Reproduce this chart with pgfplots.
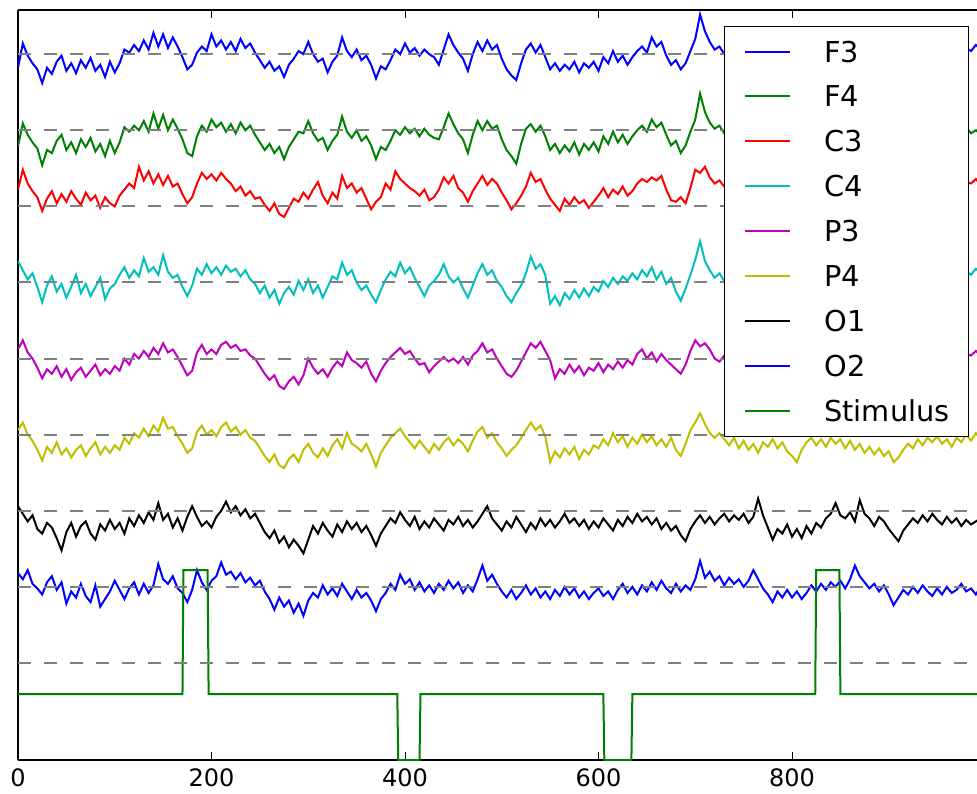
\documentclass[border=0pt]{standalone}
\usepackage{fontspec}
\setmainfont{DejaVu Sans}
\usepackage{pgfplots}
\usepackage{pgfplotstable}
\pgfplotsset{compat=1.18}

% classic matplotlib colour cycle
\definecolor{mplb}{rgb}{0,0,1}
\definecolor{mplg}{rgb}{0,0.5,0}
\definecolor{mplr}{rgb}{1,0,0}
\definecolor{mplc}{rgb}{0,0.75,0.75}
\definecolor{mplm}{rgb}{0.75,0,0.75}
\definecolor{mply}{rgb}{0.75,0.75,0}

% one channel per row, sampled every 5 time steps; each channel is stacked on its own baseline
\pgfplotstableread[row sep=\\]{
t 0 5 10 15 20 25 30 35 40 45 50 55 60 65 70 75 80 85 90 95
 100 105 110 115 120 125 130 135 140 145 150 155 160 165 170 175 180 185 190 195
 200 205 210 215 220 225 230 235 240 245 250 255 260 265 270 275 280 285 290 295
 300 305 310 315 320 325 330 335 340 345 350 355 360 365 370 375 380 385 390 395
 400 405 410 415 420 425 430 435 440 445 450 455 460 465 470 475 480 485 490 495
 500 505 510 515 520 525 530 535 540 545 550 555 560 565 570 575 580 585 590 595
 600 605 610 615 620 625 630 635 640 645 650 655 660 665 670 675 680 685 690 695
 700 705 710 715 720 725 730 735 740 745 750 755 760 765 770 775 780 785 790 795
 800 805 810 815 820 825 830 835 840 845 850 855 860 865 870 875 880 885 890 895
 900 905 910 915 920 925 930 935 940 945 950 955 960 965 970 975 980 985 990 995 1000 \\
F3 7.82 8.14 7.98 7.88 7.80 7.62 7.82 7.74 7.90 7.98
 7.78 7.88 7.75 7.92 7.82 7.95 7.78 7.86 7.70 7.90
 7.76 7.88 8.06 8.02 8.12 8.04 8.18 8.06 8.28 8.10
 8.26 8.08 8.22 8.10 7.96 7.80 7.86 8.02 8.10 8.04
 8.26 8.10 8.18 8.06 8.16 8.04 8.20 8.08 8.14 8.02
 7.92 7.82 7.90 7.78 7.84 7.70 7.86 7.94 8.04 8.00
 8.16 8.00 7.90 7.94 7.76 7.90 7.98 8.22 8.04 7.96
 8.06 7.92 7.98 7.86 7.68 7.84 7.80 7.92 8.06 8.00
 8.14 8.02 8.08 7.98 8.06 8.00 7.96 7.86 8.06 8.26
 8.12 8.02 7.94 7.78 8.00 8.16 8.04 8.18 8.06 8.12
 7.94 7.80 7.72 7.66 7.88 8.06 8.14 8.02 8.12 7.96
 7.80 7.88 7.78 7.86 7.80 7.90 7.76 7.88 7.82 7.90
 7.78 7.96 7.88 8.04 7.90 7.98 7.86 7.96 8.04 8.10
 8.02 8.22 8.10 8.16 7.98 7.86 7.92 7.80 7.88 8.04
 8.20 8.52 8.30 8.16 8.06 8.10 8.00 8.08 7.96 8.04
 7.94 8.06 7.98 8.10 8.00 7.90 8.02 7.94 8.08 8.00
 8.12 8.02 8.14 7.96 8.04 7.90 7.98 8.06 7.92 8.00
 8.10 7.96 8.04 7.88 7.96 8.08 7.98 8.12 8.02 7.94
 7.86 7.96 7.90 8.04 7.98 8.10 8.00 7.92 8.04 7.96
 8.08 7.98 7.88 8.00 8.10 8.02 8.08 8.04 8.12 8.06 8.10 \\
F4 6.79 7.09 6.94 6.84 6.76 6.54 6.74 6.70 6.86 6.94
 6.74 6.84 6.70 6.88 6.78 6.90 6.72 6.82 6.66 6.86
 6.70 6.84 7.04 6.98 7.06 7.00 7.12 6.98 7.22 7.02
 7.20 7.00 7.14 7.02 6.88 6.70 6.66 6.92 7.06 6.98
 7.14 7.04 7.10 6.98 7.08 6.96 7.10 7.00 7.06 6.94
 6.84 6.74 6.82 6.70 6.78 6.62 6.78 6.88 6.98 6.96
 7.12 6.96 6.86 6.90 6.74 6.86 6.94 7.18 6.98 6.90
 7.00 6.86 6.92 6.80 6.62 6.78 6.74 6.86 7.00 6.94
 7.04 6.96 7.02 6.92 7.02 6.94 6.90 6.88 7.04 7.22
 7.08 6.96 6.88 6.70 6.94 7.12 7.00 7.12 7.02 7.06
 6.88 6.74 6.66 6.56 6.82 7.02 7.08 6.98 7.06 6.92
 6.74 6.82 6.70 6.80 6.72 6.84 6.68 6.82 6.74 6.84
 6.72 6.92 6.82 6.98 6.84 6.94 6.82 6.92 7.00 7.06
 6.98 7.14 7.04 7.10 6.94 6.80 6.86 6.70 6.80 6.98
 7.14 7.48 7.24 7.10 7.02 7.06 6.96 7.04 6.92 7.00
 6.90 7.02 6.94 7.06 6.96 6.86 6.98 6.90 7.04 6.96
 7.08 6.98 7.10 6.92 7.00 6.86 6.94 7.02 6.88 6.96
 7.06 6.92 7.00 6.84 6.92 7.04 6.94 7.08 6.98 6.90
 6.82 6.92 6.86 7.00 6.94 7.06 6.96 6.88 7.00 6.92
 7.04 6.94 6.86 6.98 7.06 6.98 7.04 6.96 7.00 6.94 6.98 \\
C3 6.22 6.48 6.30 6.20 6.12 5.94 6.10 6.20 6.04 6.16
 6.06 6.20 6.10 6.02 6.18 6.08 6.14 5.98 6.12 6.04
 6.00 6.14 6.22 6.30 6.24 6.52 6.34 6.46 6.30 6.42
 6.28 6.40 6.26 6.30 6.16 6.04 6.12 6.30 6.44 6.36
 6.42 6.34 6.44 6.36 6.30 6.20 6.26 6.14 6.20 6.10
 6.12 6.02 5.94 6.04 5.90 5.86 5.98 6.10 6.06 6.18
 6.10 6.22 6.32 6.14 6.04 6.18 6.10 6.40 6.24 6.30
 6.18 6.24 6.10 5.96 6.06 6.12 6.30 6.22 6.46 6.36
 6.30 6.24 6.20 6.14 6.22 6.08 6.12 6.22 6.38 6.30
 6.40 6.24 6.18 6.06 6.20 6.30 6.40 6.28 6.36 6.30
 6.18 6.08 5.96 6.04 6.14 6.26 6.44 6.32 6.36 6.22
 6.10 6.02 5.94 6.10 6.02 6.12 6.04 6.08 5.98 6.06
 6.14 6.24 6.12 6.22 6.16 6.26 6.14 6.20 6.30 6.36
 6.32 6.38 6.34 6.40 6.22 6.08 6.06 6.12 6.04 6.24
 6.48 6.44 6.52 6.38 6.30 6.34 6.26 6.30 6.22 6.28
 6.18 6.30 6.22 6.34 6.26 6.14 6.24 6.18 6.30 6.22
 6.34 6.24 6.36 6.20 6.28 6.16 6.22 6.30 6.18 6.26
 6.32 6.20 6.28 6.14 6.22 6.32 6.24 6.36 6.26 6.18
 6.12 6.22 6.16 6.28 6.24 6.34 6.26 6.18 6.28 6.22
 6.32 6.24 6.16 6.26 6.34 6.28 6.32 6.30 6.36 6.28 6.32 \\
C4 5.28 5.16 5.04 5.12 4.94 4.74 4.96 5.08 4.88 4.98
 4.80 4.94 5.10 4.86 4.98 4.82 4.94 5.06 4.78 4.92
 4.98 5.10 5.20 5.06 5.16 5.08 5.32 5.14 5.20 5.10
 5.36 5.14 5.06 5.10 4.94 4.82 4.96 5.18 5.10 5.24
 5.12 5.20 5.10 5.22 5.14 5.18 5.08 5.16 5.04 4.98
 4.86 4.96 4.80 4.90 4.72 4.86 4.94 4.84 5.02 4.90
 5.04 4.86 4.96 4.80 4.94 5.08 5.04 5.26 5.10 5.16
 5.00 4.90 4.96 4.84 4.74 4.90 5.04 5.14 5.08 5.26
 5.12 5.20 5.06 4.94 4.82 4.96 5.02 5.10 5.24 5.08
 5.00 5.06 4.92 4.80 4.96 5.12 5.24 5.10 5.16 5.02
 4.94 4.82 4.74 4.86 4.96 5.12 5.34 5.18 5.24 5.10
 4.72 4.82 4.70 4.86 4.78 4.90 4.80 4.92 4.82 4.94
 4.88 5.02 4.94 5.06 4.98 5.08 5.02 5.12 5.04 5.16
 5.08 5.20 5.04 5.14 4.98 5.06 4.88 4.76 4.92 5.10
 5.30 5.54 5.28 5.16 5.06 5.12 5.02 5.10 4.98 5.06
 4.96 5.08 5.00 5.12 5.02 4.92 5.04 4.96 5.10 5.02
 5.14 5.04 5.16 4.98 5.06 4.92 5.00 5.08 4.94 5.02
 5.12 4.98 5.06 4.90 4.98 5.10 5.00 5.14 5.04 4.96
 4.88 4.98 4.92 5.06 5.00 5.12 5.02 4.94 5.06 4.98
 5.10 5.00 4.92 5.04 5.12 5.06 5.16 5.10 5.18 5.12 5.14 \\
P3 4.12 4.24 4.08 4.00 3.88 3.74 3.86 3.80 3.90 3.76
 3.86 3.72 3.82 3.88 3.76 3.84 3.92 3.78 3.86 3.80
 3.90 3.84 4.00 3.92 4.06 4.00 4.10 4.02 4.14 4.06
 4.20 4.08 4.12 4.02 3.90 3.78 3.84 4.08 4.18 4.06
 4.12 4.06 4.18 4.22 4.14 4.18 4.10 4.12 4.04 4.00
 3.90 3.80 3.72 3.78 3.64 3.60 3.70 3.76 3.66 3.78
 4.00 3.88 3.80 3.86 3.76 3.88 3.96 3.90 4.08 3.98
 3.94 3.88 3.96 3.80 3.70 3.84 3.94 4.02 4.08 4.14
 4.06 4.10 4.00 3.92 3.94 3.82 3.90 3.96 4.02 3.96
 4.00 3.94 4.02 3.92 4.04 4.10 4.20 4.08 4.12 4.00
 3.90 3.80 3.76 3.84 3.96 4.08 4.20 4.14 4.22 4.10
 3.98 3.74 3.86 3.80 3.92 3.82 3.90 3.78 3.88 3.84
 3.94 3.82 3.92 3.86 3.96 3.88 3.98 3.92 4.06 4.12
 4.00 4.08 3.96 4.06 3.98 3.92 3.86 3.80 3.92 4.10
 4.24 4.16 4.20 4.12 4.00 3.96 4.04 3.98 4.06 4.00
 3.92 4.04 3.96 4.08 3.98 3.88 4.00 3.92 4.06 3.98
 4.10 3.98 4.08 3.92 4.02 3.88 3.96 4.04 3.90 3.98
 4.06 3.94 4.02 3.86 3.94 4.06 3.96 4.10 4.00 3.92
 3.86 3.96 3.90 4.02 3.98 4.08 4.00 3.92 4.04 3.96
 4.06 3.98 3.90 4.00 4.08 4.02 4.06 4.04 4.10 4.04 4.06 \\
P4 3.06 3.16 3.00 2.92 2.80 2.66 2.84 2.76 2.90 2.74
 2.82 2.70 2.80 2.86 2.72 2.82 2.90 2.74 2.84 2.76
 2.86 2.80 2.96 2.88 3.02 2.96 3.08 2.98 3.12 3.04
 3.22 3.08 3.10 2.98 2.88 2.76 2.82 3.04 3.12 3.00
 3.06 2.98 3.10 3.16 3.04 3.10 3.00 3.06 2.96 2.92
 2.82 2.72 2.64 2.74 2.60 2.56 2.68 2.74 2.64 2.80
 2.88 2.76 2.70 2.82 2.72 2.86 2.94 2.82 3.02 2.88
 2.84 2.78 2.88 2.74 2.58 2.76 2.86 2.96 3.02 3.08
 2.98 2.90 2.82 2.92 2.84 2.76 2.88 2.80 2.90 2.96
 2.86 2.94 2.88 2.78 2.92 3.04 3.10 2.96 3.02 2.90
 2.82 2.72 2.80 2.86 2.96 3.06 3.16 3.06 3.12 2.98
 2.64 2.78 2.70 2.82 2.74 2.84 2.68 2.80 2.74 2.86
 2.82 2.94 2.86 3.02 2.90 2.98 2.84 2.96 2.88 3.00
 2.90 2.98 2.86 2.94 2.84 2.96 2.80 2.72 2.88 3.06
 3.16 3.28 3.14 3.02 2.96 3.02 2.94 2.86 2.96 2.82
 2.92 2.80 2.88 2.76 2.90 2.84 2.94 2.82 2.90 2.78
 2.72 2.64 2.80 2.90 2.96 2.86 2.94 2.84 2.96 2.88
 2.94 2.82 2.92 2.80 2.88 2.76 2.84 2.74 2.82 2.72
 2.78 2.64 2.70 2.80 2.88 2.82 2.94 2.86 2.96 2.90
 2.98 2.88 2.94 2.84 2.96 2.90 3.00 2.92 3.02 2.94 2.98 \\
O1 2.06 1.96 1.86 1.94 1.76 1.70 1.84 1.78 1.64 1.48
 1.72 1.84 1.66 1.80 1.86 1.70 1.62 1.82 1.74 1.88
 1.76 1.84 1.70 1.90 1.80 1.94 1.84 1.98 1.88 2.10
 1.88 1.96 1.78 1.90 1.74 1.92 2.06 1.92 1.80 1.86
 1.78 1.92 2.00 2.12 1.98 2.06 1.94 2.02 1.90 1.96
 1.84 1.72 1.64 1.74 1.58 1.66 1.52 1.62 1.54 1.44
 1.62 1.80 1.70 1.84 1.74 1.66 1.82 1.72 1.86 1.76
 1.84 1.72 1.80 1.68 1.54 1.70 1.80 1.90 1.84 1.98
 1.88 1.80 1.92 1.76 1.86 1.78 1.90 1.82 1.74 1.88
 1.82 1.92 1.80 1.88 1.78 1.86 1.96 2.06 1.90 1.82
 1.74 1.86 1.78 1.92 1.82 1.72 1.84 1.76 1.90 1.80
 1.88 1.78 1.86 1.96 1.84 1.90 1.80 1.88 1.76 1.86
 1.78 1.90 1.82 1.74 1.88 1.80 1.92 1.84 1.96 1.86
 1.92 1.82 1.90 1.76 1.84 1.74 1.80 1.68 1.60 1.76
 1.86 1.94 1.84 1.92 1.82 1.90 1.96 1.86 1.94 1.88
 1.96 1.84 1.92 2.16 1.94 1.78 1.62 1.76 1.70 1.82
 1.66 1.76 1.64 1.80 1.70 1.84 1.78 1.90 1.96 2.10
 1.94 1.90 1.98 1.86 2.14 1.96 1.90 1.80 1.92 1.86
 1.76 1.68 1.60 1.74 1.82 1.90 1.84 1.94 1.86 1.96
 1.88 1.82 1.92 1.84 1.90 1.80 1.88 1.82 1.86 1.90 1.86 \\
O2 1.18 1.10 1.22 1.04 0.98 0.90 1.06 1.14 0.96 1.06
 0.78 0.94 0.86 1.04 0.88 0.80 1.02 0.74 0.84 0.94
 1.08 0.96 0.84 0.98 1.06 0.90 1.04 0.92 1.02 1.30
 1.10 1.04 1.14 0.98 0.92 0.80 0.96 1.22 1.06 0.96
 1.08 1.14 1.32 1.16 1.20 1.10 1.18 1.06 1.12 1.02
 1.08 0.94 0.84 0.70 0.86 0.74 0.82 0.66 0.78 0.62
 0.82 0.92 0.86 1.02 0.90 0.98 0.88 1.04 0.94 0.84
 0.96 0.86 0.92 0.82 0.68 0.84 0.92 1.04 0.96 1.16
 1.04 1.10 0.96 1.06 0.94 1.02 0.92 1.04 0.96 1.08
 0.98 1.06 0.92 1.02 0.94 1.10 1.28 1.08 1.16 1.04
 0.94 0.86 0.96 0.84 0.92 1.02 0.90 0.98 0.86 0.94
 0.84 0.96 0.88 1.00 0.90 0.98 0.86 0.94 0.84 0.92
 0.98 0.88 0.94 0.84 0.96 1.04 0.92 1.00 0.90 1.02
 0.94 1.06 0.96 1.08 0.98 0.92 1.04 0.94 1.02 0.96
 1.10 1.34 1.12 1.20 1.08 1.14 1.02 1.12 1.04 1.10
 1.00 1.08 1.22 1.10 0.98 0.90 0.80 0.94 0.86 0.96
 0.86 0.94 0.84 0.92 1.02 0.94 1.04 0.96 1.06 1.00
 1.08 0.98 1.10 1.28 1.14 1.06 0.98 1.04 0.94 1.02
 0.90 0.76 0.86 0.96 0.90 1.00 0.92 1.02 0.94 0.88
 0.98 0.90 1.00 0.92 0.96 1.04 0.94 0.98 0.90 1.00 0.96 \\
}\eegraw
\pgfplotstabletranspose[colnames from=t, input colnames to=time]{\eeg}{\eegraw}

\begin{document}
\begin{tikzpicture}
\begin{axis}[
  scale only axis,
  width=479.5pt, height=375pt,
  xmin=0, xmax=991.2,
  ymin=-1.275, ymax=8.58,
  axis x line=box, axis y line=left,
  axis line style={-, line width=0.8pt, black},
  ytick=\empty,
  xtick={0,200,400,600,800},
  tick align=inside,
  major tick length=4pt,
  xtick style={line width=0.5pt, black},
  /pgf/number format/assume math mode=true,
  xticklabel style={font=\fontsize{12pt}{14pt}\selectfont, yshift=-1pt},
  every axis plot/.append style={line width=1pt},
  legend cell align=left,
  legend image code/.code={\draw[#1, line width=1pt] (0pt,0pt) -- (22.7pt,0pt);},
  legend style={
    at={(axis description cs:0.9917,0.9787)}, anchor=north east,
    draw=black, line width=0.5pt, fill=white,
    font=\fontsize{14.4pt}{17pt}\selectfont,
    inner xsep=9.5pt, inner ysep=7.2pt,
    nodes={inner sep=0pt, text depth=0pt},
    row sep=11.8pt, column sep=16.5pt,
  },
]
\addplot[mplb] table[x=time, y=F3] {\eeg}; \addlegendentry{F3}
\addplot[mplg] table[x=time, y=F4] {\eeg}; \addlegendentry{F4}
\addplot[mplr] table[x=time, y=C3] {\eeg}; \addlegendentry{C3}
\addplot[mplc] table[x=time, y=C4] {\eeg}; \addlegendentry{C4}
\addplot[mplm] table[x=time, y=P3] {\eeg}; \addlegendentry{P3}
\addplot[mply] table[x=time, y=P4] {\eeg}; \addlegendentry{P4}
\addplot[black] table[x=time, y=O1] {\eeg}; \addlegendentry{O1}
\addplot[mplb] table[x=time, y=O2] {\eeg}; \addlegendentry{O2}
\addplot[mplg] coordinates {
  (0,-0.41) (170,-0.41) (171,1.22) (196,1.22) (197,-0.41)
  (392,-0.41) (393,-1.275) (415,-1.275) (416,-0.41)
  (605,-0.41) (606,-1.275) (634,-1.275) (635,-0.41)
  (824,-0.41) (825,1.22) (849,1.22) (850,-0.41) (1000,-0.41)
}; \addlegendentry{Stimulus}
% channel baselines
\pgfplotsinvokeforeach{0,...,8}{
  \addplot[forget plot, black!50, dash pattern=on 6.5pt off 6.5pt] coordinates {(0,#1) (1000,#1)};
}
\coordinate (sw) at (rel axis cs:0,0);
\coordinate (ne) at (rel axis cs:1,1);
\end{axis}
\pgfresetboundingbox
\path[use as bounding box] ([xshift=-9pt,yshift=-16.5pt]sw) rectangle ([yshift=5pt]ne);
\end{tikzpicture}
\end{document}
